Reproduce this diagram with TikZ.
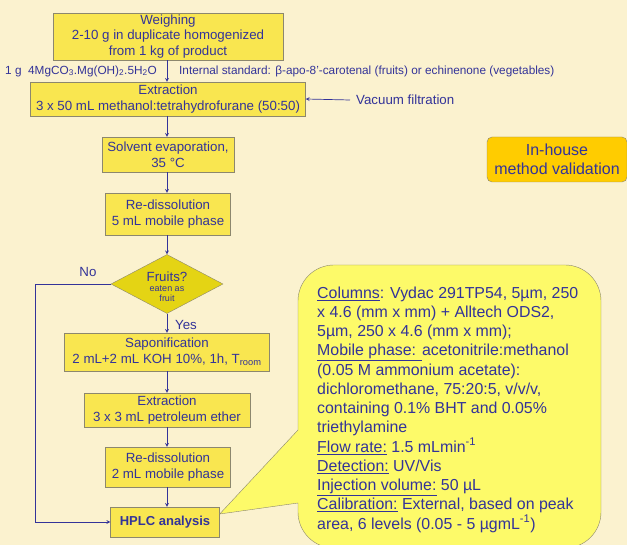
\documentclass[tikz,border=0pt]{standalone}
\usepackage{fontspec}
\setmainfont{Liberation Sans}
\usepackage{xcolor}
\usepackage{tikz}
\usetikzlibrary{shapes,arrows,positioning,calc}

\definecolor{parchment}{RGB}{251,242,207}
\definecolor{boxyellow}{RGB}{249,230,80}
\definecolor{diamondyellow}{RGB}{228,212,20}
\definecolor{calloutyellow}{RGB}{253,250,105}
\definecolor{inhouseorange}{RGB}{255,204,0}
\definecolor{inkblue}{RGB}{51,51,153}
\definecolor{edgegray}{RGB}{140,135,110}

\begin{document}
\begin{tikzpicture}[
    x=1pt, y=-1pt,
    every node/.style={font=\fontsize{13.3}{15.5}\selectfont, text=inkblue, align=center},
    stage/.style={draw=edgegray, fill=boxyellow, inner sep=0pt},
    flow/.style={draw=inkblue, line width=0.7pt, -stealth},
    side/.style={font=\fontsize{11.8}{13}\selectfont, anchor=west, inner sep=0pt}
]
\useasboundingbox (0,0) rectangle (627,545);
\fill[parchment] (0,0) rectangle (627,545);
\clip (0,0) rectangle (627,545);

\node[stage, minimum width=230pt, minimum height=47pt] (weigh) at (168,36.5)
    {Weighing\\2-10 g in duplicate homogenized\\from 1 kg of product};
\node[stage, minimum width=275pt, minimum height=34pt] (extr1) at (168,99)
    {Extraction\\3 x 50 mL methanol:tetrahydrofurane (50:50)};
\node[stage, minimum width=132pt, minimum height=35pt] (evap) at (168,154.5)
    {Solvent evaporation,\\35 °C};
\node[stage, minimum width=125pt, minimum height=42pt] (redis1) at (168,214)
    {Re-dissolution\\5 mL mobile phase};
\node[draw=edgegray, fill=diamondyellow, diamond, inner sep=0pt,
      minimum width=112pt, minimum height=59pt] (fruits) at (167,284) {};
\node[font=\fontsize{9}{10}\selectfont] (fruitstext) at ([yshift=-3pt]fruits.center)
    {{\fontsize{13.3}{13}\selectfont Fruits?}\\eaten as\\fruit};
\node[stage, minimum width=205pt, minimum height=38pt] (sapon) at (167,352)
    {Saponification\\2 mL+2 mL KOH 10\%, 1h, T\textsubscript{room}};
\node[stage, minimum width=166pt, minimum height=34pt] (extr2) at (167,410)
    {Extraction\\3 x 3 mL petroleum ether};
\node[stage, minimum width=125pt, minimum height=40pt] (redis2) at (168,467)
    {Re-dissolution\\2 mL mobile phase};
\node[stage, minimum width=109pt, minimum height=30pt, font=\fontsize{13}{15}\selectfont\bfseries] (hplc) at (165,522)
    {HPLC analysis};

\node[side] (reagent) at (5,71) {1 g\ \ 4MgCO\textsubscript{3}.Mg(OH)\textsubscript{2}.5H\textsubscript{2}O};
\node[side] (standard) at (179,71) {Internal standard: β-apo-8’-carotenal (fruits) or echinenone (vegetables)};
\node[side, font=\fontsize{13.3}{15}\selectfont] (vacuum) at (356,100) {Vacuum filtration};
\coordinate (vacstart) at (350,100);
\node (nolabel) at (88,272) {No};
\node (yeslabel) at (186,325) {Yes};
\coordinate (nocorner) at (35,284);

\node[draw=edgegray, fill=inhouseorange, rounded corners=5pt, minimum width=140pt, minimum height=45pt,
      inner sep=0pt, font=\fontsize{16}{19}\selectfont] (inhouse) at (557,159.5) {In-house\\method validation};

\draw[flow] (weigh.south -| 167,0) -- (extr1.north -| 167,0);
\draw[flow] (extr1.south -| 167,0) -- (evap.north -| 167,0);
\draw[flow] (evap.south -| 167,0) -- (redis1.north -| 167,0);
\draw[flow] (redis1.south -| 167,0) -- (fruits.north);
\draw[flow] (fruits.south) -- (sapon.north -| 167,0);
\draw[flow] (sapon.south -| 167,0) -- (extr2.north -| 167,0);
\draw[flow] (extr2.south -| 167,0) -- (redis2.north -| 167,0);
\draw[flow] (redis2.south -| 167,0) -- (hplc.north -| 167,0);
\draw[flow] (vacstart) -- (extr1.east);
\draw[flow] (fruits.west) -- (nocorner) |- (hplc.west);

\filldraw[draw=edgegray, fill=calloutyellow, rounded corners=36pt]
    (298,430) -- (298,265) -- (601,265) -- (601,548) -- (298,548)
    [sharp corners] -- (298,503) -- ([yshift=8pt]hplc.east) -- cycle;
\node[anchor=north west, inner sep=0pt, align=left,
      font=\fontsize{15.9}{19.25}\selectfont] (hplcdetails) at (317,286.5)
    {\underline{Columns}: Vydac 291TP54, 5µm, 250\\
     x 4.6 (mm x mm) + Alltech ODS2,\\
     5µm, 250 x 4.6 (mm x mm);\\
     \underline{Mobile phase: }acetonitrile:methanol\\
     (0.05 M ammonium acetate):\\
     dichloromethane, 75:20:5, v/v/v,\\
     containing 0.1\% BHT and 0.05\%\\
     triethylamine\\
     \underline{Flow rate:} 1.5 mLmin\textsuperscript{-1}\\
     \underline{Detection:} UV/Vis\\
     \underline{Injection volume:} 50 µL\\
     \underline{Calibration:} External, based on peak\\
     area, 6 levels (0.05 - 5 µgmL\textsuperscript{-1})};
\end{tikzpicture}
\end{document}
